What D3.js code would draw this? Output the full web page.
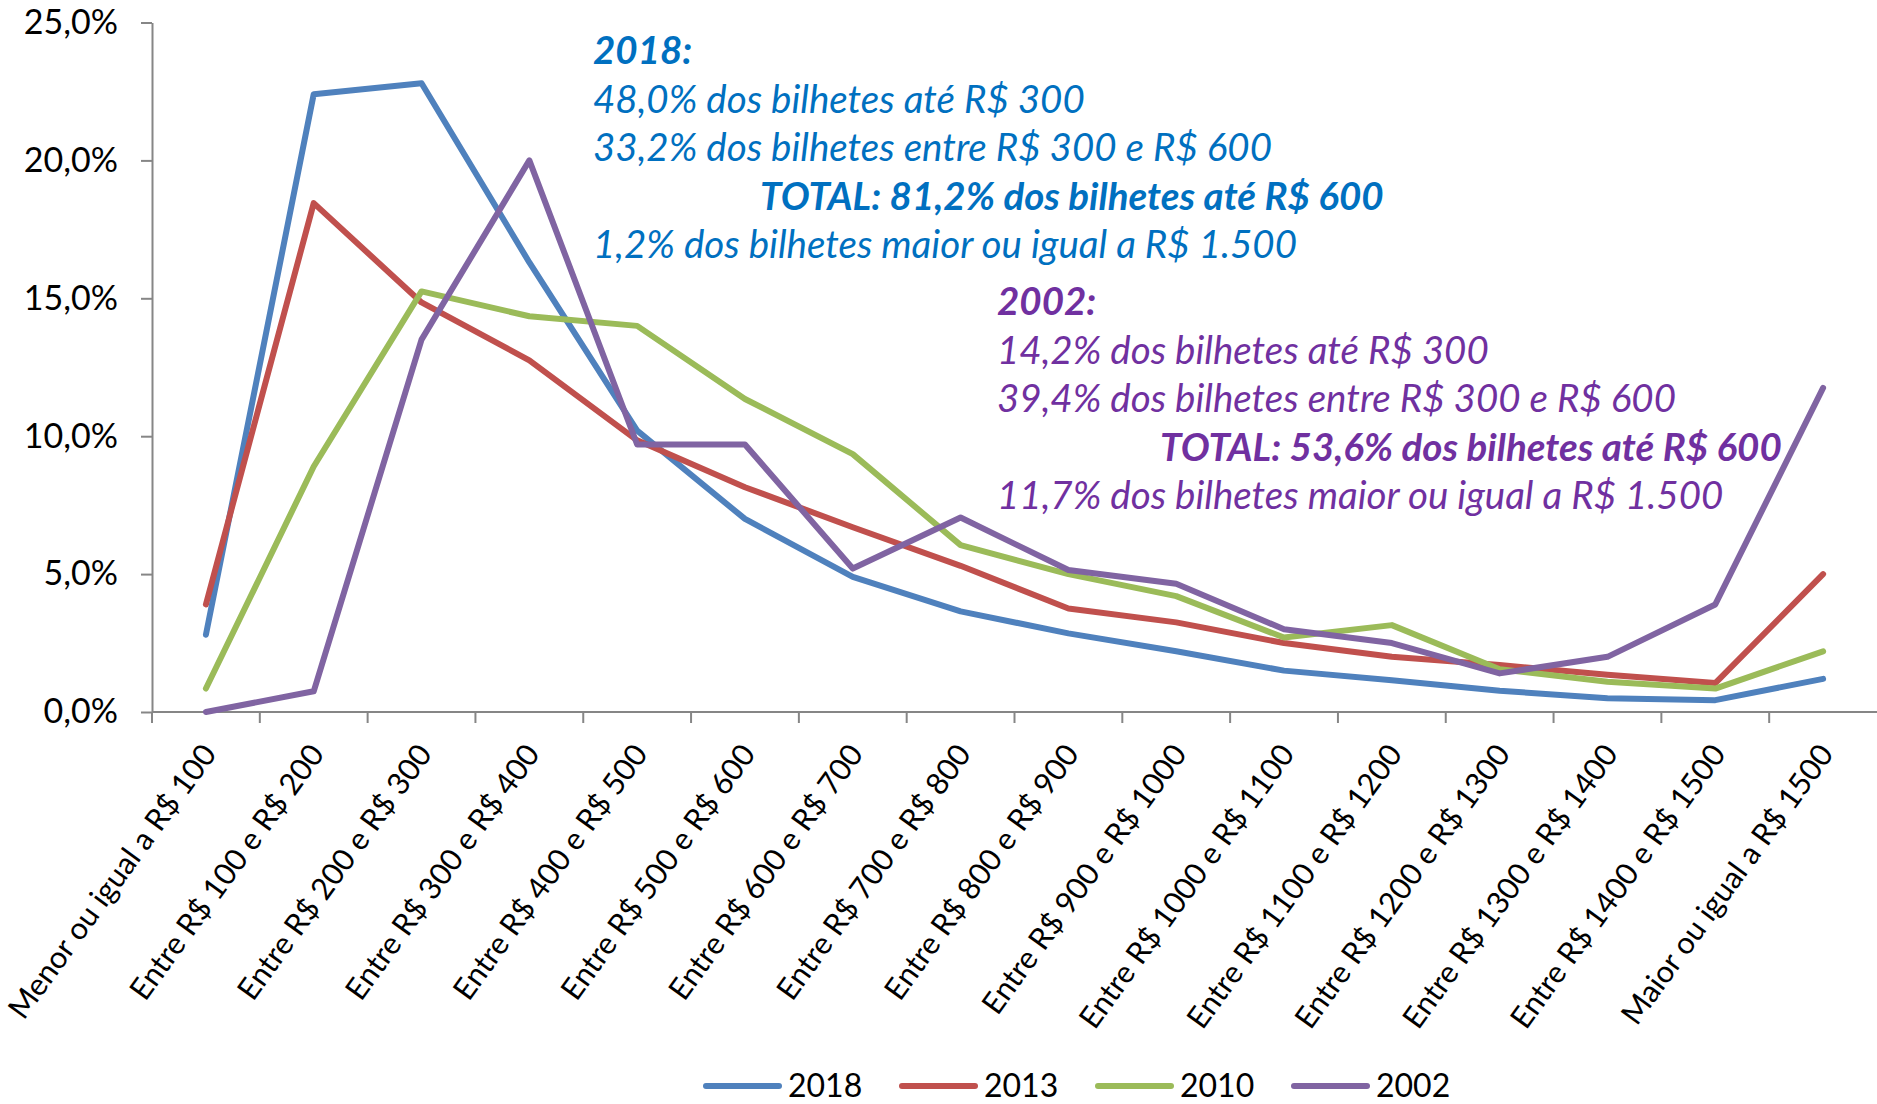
<!DOCTYPE html>
<html><head><meta charset="utf-8">
<script src="https://cdn.jsdelivr.net/npm/d3@7"></script>
<style>
html,body{margin:0;padding:0;background:#fff;}
svg{display:block;font-family:Lato,"Open Sans",sans-serif;}
</style></head>
<body>
<svg id="chart" width="1877" height="1104"></svg>
<script>
const categories = ["Menor ou igual a R$ 100","Entre R$ 100 e R$ 200","Entre R$ 200 e R$ 300","Entre R$ 300 e R$ 400","Entre R$ 400 e R$ 500","Entre R$ 500 e R$ 600","Entre R$ 600 e R$ 700","Entre R$ 700 e R$ 800","Entre R$ 800 e R$ 900","Entre R$ 900 e R$ 1000","Entre R$ 1000 e R$ 1100","Entre R$ 1100 e R$ 1200","Entre R$ 1200 e R$ 1300","Entre R$ 1300 e R$ 1400","Entre R$ 1400 e R$ 1500","Maior ou igual a R$ 1500"];
const seriesNames = ["2018","2013","2010","2002"];
const seriesColors = ["#4F81BD","#C0504D","#9BBB59","#8064A2"];
const values2018 = [2.8,22.4,22.8,16.3,10.2,7.0,4.9,3.65,2.85,2.2,1.5,1.15,0.77,0.5,0.43,1.2];
const values2013 = [3.9,18.45,14.85,12.75,9.85,8.15,6.7,5.3,3.75,3.25,2.5,2.0,1.7,1.35,1.05,5.0];
const values2010 = [0.85,8.9,15.25,14.35,14.0,11.35,9.35,6.05,5.0,4.2,2.7,3.15,1.55,1.1,0.85,2.2];
const values2002 = [0.0,0.75,13.5,20.0,9.7,9.7,5.2,7.05,5.15,4.65,3.0,2.5,1.4,2.0,3.9,11.75];
const yTicks = [0,5,10,15,20,25];
const note2018 = ["2018:","48,0% dos bilhetes até R$ 300","33,2% dos bilhetes entre R$ 300 e R$ 600","TOTAL: 81,2% dos bilhetes até R$ 600","1,2% dos bilhetes maior ou igual a R$ 1.500"];
const note2002 = ["2002:","14,2% dos bilhetes até R$ 300","39,4% dos bilhetes entre R$ 300 e R$ 600","TOTAL: 53,6% dos bilhetes até R$ 600","11,7% dos bilhetes maior ou igual a R$ 1.500"];

const series = [values2018, values2013, values2010, values2002].map((v,i)=>({name:seriesNames[i], color:seriesColors[i], values:v}));

const svg = d3.select("#chart");
svg.append("rect").attr("width",1877).attr("height",1104).attr("fill","#fff");

const mLeft = 152, mRight = 1877, mTop = 22.5, mBottom = 712;
const x = d3.scaleBand().domain(categories).range([mLeft, mRight]).padding(0);
const y = d3.scaleLinear().domain([0,25]).range([mBottom, mTop]);
const loc = d3.formatLocale({decimal:",", thousands:".", grouping:[3], currency:["R$ ",""]});
const fmt = v => loc.format(".1f")(v) + "%";
const axisColor = "#868686";

// Y axis
const ya = svg.append("g").attr("transform",`translate(${mLeft},0)`)
  .call(d3.axisLeft(y).tickValues(yTicks).tickFormat(fmt).tickSize(11).tickPadding(23).tickSizeOuter(0));
ya.select(".domain").attr("stroke",axisColor).attr("stroke-width",2);
ya.selectAll(".tick line").attr("stroke",axisColor).attr("stroke-width",2);
ya.selectAll(".tick text").attr("font-size",34).attr("fill","#000").attr("font-family","Lato,'Open Sans',sans-serif");

// X axis
const xa = svg.append("g");
xa.append("line").attr("x1",mLeft).attr("x2",mRight).attr("y1",mBottom).attr("y2",mBottom).attr("stroke",axisColor).attr("stroke-width",2);
xa.selectAll("line.t").data(categories).join("line").attr("class","t")
  .attr("x1",d=>x(d)).attr("x2",d=>x(d)).attr("y1",mBottom).attr("y2",mBottom+11)
  .attr("stroke",axisColor).attr("stroke-width",2);
xa.selectAll("text").data(categories).join("text")
  .attr("transform",d=>`translate(${x(d)+x.bandwidth()/2+3},${mBottom+36}) rotate(-54)`)
  .attr("text-anchor","end").attr("dy","0.35em").attr("font-size",30.5).attr("fill","#000")
  .text(d=>d);

// Lines
const line = d3.line().x((d,i)=>x(categories[i])+x.bandwidth()/2).y(d=>y(d));
svg.append("g").selectAll("path").data(series).join("path")
  .attr("d",d=>line(d.values)).attr("fill","none").attr("stroke",d=>d.color)
  .attr("stroke-width",6).attr("stroke-linejoin","round").attr("stroke-linecap","round");

// Annotations
function note(lines, color, x0, xTotal, y0){
  const g = svg.append("g").attr("fill",color).attr("font-style","italic").attr("font-size",38.5);
  lines.forEach((t,i)=>{
    g.append("text").attr("x", i===3 ? xTotal : x0).attr("y", y0 + i*48.5)
     .attr("font-weight", (i===0||i===3) ? 700 : 400).text(t);
  });
}
note(note2018, "#0070C0", 593, 760, 64);
note(note2002, "#7030A0", 997, 1160, 315);

// Legend
const lg = svg.append("g").attr("transform","translate(704,1086)");
const items = lg.selectAll("g").data(series).join("g").attr("transform",(d,i)=>`translate(${i*196},0)`);
items.append("line").attr("x1",2).attr("x2",75).attr("y1",0).attr("y2",0)
  .attr("stroke",d=>d.color).attr("stroke-width",6).attr("stroke-linecap","round");
items.append("text").attr("x",84).attr("y",11).attr("font-size",32).attr("fill","#000").text(d=>d.name);
</script>
</body></html>
